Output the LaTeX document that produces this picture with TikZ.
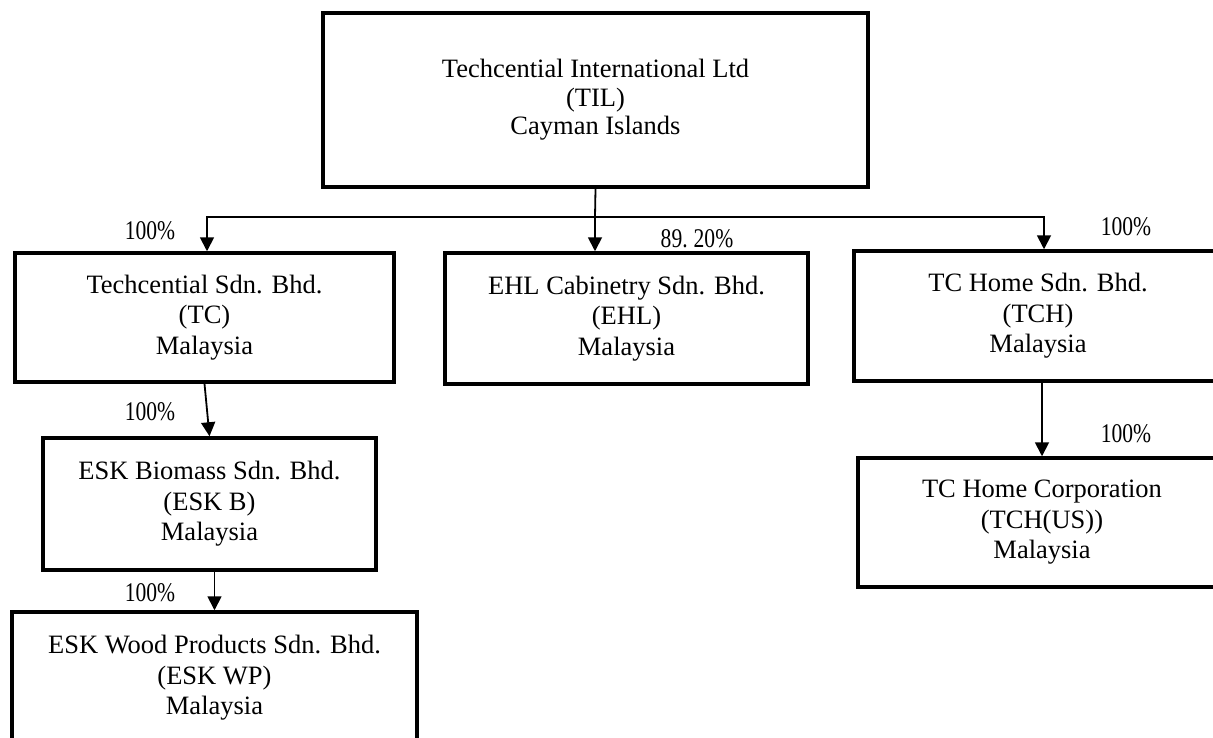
\documentclass[tikz,border=0pt]{standalone}
\usepackage{fontspec}
\setmainfont{Liberation Serif}
\newfontfamily\pctfont[FakeStretch=0.8]{Liberation Serif}
\usetikzlibrary{arrows.meta}
\tikzset{
  box/.style={draw, line width=3.5pt, align=center, inner sep=0pt,
    font=\fontsize{26.5}{30.5}\selectfont},
  conn/.style={line width=1.8pt},
  arr/.style={line width=1.8pt, -{Triangle[width=14pt,length=14pt]}},
  pct/.style={inner sep=0pt, font=\pctfont\fontsize{27}{30}\selectfont}
}
\begin{document}
\begin{tikzpicture}[x=1pt,y=-1pt]
\useasboundingbox (0,0) rectangle (1213,737);
\clip (0,0) rectangle (1213,737);
\node[box, minimum width=545pt, minimum height=174pt, font=\fontsize{26.5}{28.5}\selectfont] (til) at (595.5,100)
  {Techcential International Ltd\\(TIL)\\Cayman Islands};
\node[box, minimum width=379pt, minimum height=129pt] (tc) at (204.5,317.5)
  {Techcential Sdn. Bhd.\\(TC)\\Malaysia};
\node[box, minimum width=363pt, minimum height=131pt] (ehl) at (626.5,318.5)
  {EHL Cabinetry Sdn. Bhd.\\(EHL)\\Malaysia};
\node[box, minimum width=368pt, minimum height=130pt] (tch) at (1038,316)
  {TC Home Sdn. Bhd.\\(TCH)\\Malaysia};
\node[box, minimum width=333pt, minimum height=132pt] (eskb) at (209.5,504)
  {ESK Biomass Sdn. Bhd.\\(ESK B)\\Malaysia};
\node[box, minimum width=405pt, minimum height=132pt] (eskwp) at (214.5,678)
  {ESK Wood Products Sdn. Bhd.\\(ESK WP)\\Malaysia};
\node[box, minimum width=368pt, minimum height=129pt] (tchus) at (1042,522.5)
  {TC Home Corporation\\(TCH(US))\\Malaysia};

\coordinate (j) at (595,217);
\draw[conn] (til.south) -- (j);
\draw[arr] (j) -| ([xshift=2.5pt]tc.north);
\draw[arr] (j) -- (j |- ehl.north);
\draw[arr] (j) -| ([xshift=6pt]tch.north);
\draw[arr] (tc.south) -- (eskb.north);
\draw[arr] (eskwp.north |- eskb.south) -- (eskwp.north);
\draw[arr] (tchus.north |- tch.south) -- (tchus.north);

\node[pct] (ptc) at (150,231) {100\%};
\node[pct] (pehl) at (697,239) {89.\kern6pt20\%};
\node[pct] (ptch) at (1126,227) {100\%};
\node[pct] (peskb) at (150,412) {100\%};
\node[pct] (peskwp) at (150,593) {100\%};
\node[pct] (ptchus) at (1126,434) {100\%};
\end{tikzpicture}
\end{document}
